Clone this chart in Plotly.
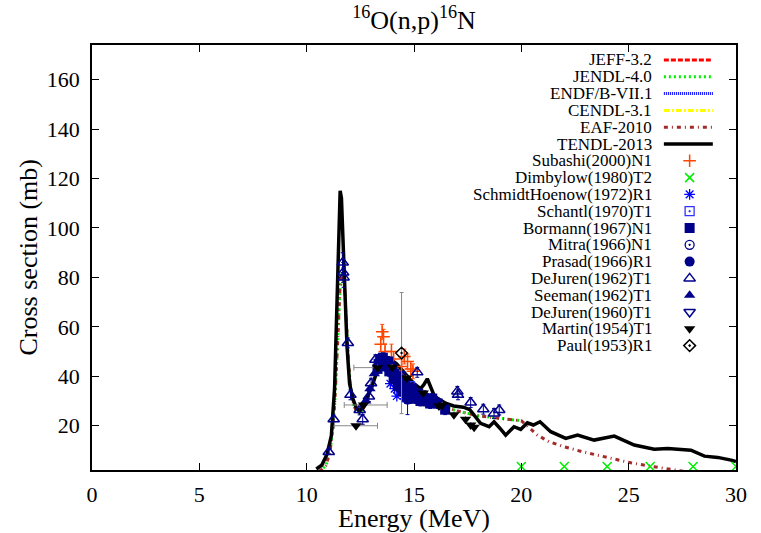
import plotly.graph_objects as go

# evaluated curves (energy in MeV, cross section in mb)
tendl_e = [10.45, 10.7, 10.95, 11.15, 11.3, 11.42, 11.5, 11.56, 11.62, 11.7, 11.78, 11.88,
           12.0, 12.15, 12.3, 12.46, 12.6, 12.75, 12.9, 13.05, 13.2, 13.4, 13.6, 13.9, 14.2,
           14.6, 15.0, 15.3, 15.45, 15.62, 15.8, 15.95, 16.2, 16.5, 16.85, 17.3, 17.6, 17.8,
           18.1, 18.5, 18.73, 19.0, 19.27, 19.66, 19.97, 20.28, 20.56, 20.87, 21.37, 22.07,
           22.62, 23.39, 24.33, 25.26, 26.19, 26.82, 27.9, 28.53, 29.15, 29.77, 30.0]
tendl_xs = [2.5, 4, 8.5, 16, 35, 75, 104, 115, 112, 95, 72, 52,
            37, 31, 27.5, 25.7, 27.5, 30, 33, 36, 40, 44, 47, 47, 45,
            41, 37, 35, 36.5, 39, 35, 32, 30.5, 29, 28, 27.5, 26.5, 24.5,
            21, 19.6, 21.6, 19, 16.2, 19.6, 18.5, 21.2, 20.3, 21.6, 17.6, 14.9,
            16.2, 14.2, 15.8, 12.2, 10.5, 10.8, 10.1, 7.7, 7.2, 6.1, 5.5]

jendl_e = [10.6, 10.9, 11.1, 11.3, 11.45, 11.55, 11.65, 11.75, 11.85, 11.95, 12.05, 12.2,
           12.35, 12.5, 12.7, 12.95, 13.2, 13.5, 13.8, 14.1, 14.5, 15.0, 15.5, 16.0, 16.5,
           17.0, 17.5, 18.0, 18.5, 19.0, 19.5, 20.0]
jendl_xs = [1.5, 4, 10, 28, 55, 75, 82, 78, 62, 45, 35, 28,
            25.5, 25, 28, 34, 40, 45, 46, 44, 40, 36, 33, 30, 27.5,
            26, 25, 24, 23.5, 23, 22.5, 22]

eaf_e = [10.6, 10.9, 11.1, 11.3, 11.45, 11.55, 11.65, 11.75, 11.85, 11.95, 12.05, 12.2,
         12.35, 12.5, 12.7, 12.95, 13.2, 13.5, 13.8, 14.1, 14.5, 15.0, 15.5, 16.0, 16.5,
         17.0, 17.5, 18.0, 18.5, 19.0, 19.5, 20.0, 20.4, 20.75, 21.3, 22.0, 22.8, 23.55,
         24.3, 25.1, 25.9, 26.66, 27.3, 28.0]
eaf_xs = [1.5, 4, 10, 28, 55, 75, 82, 78, 62, 45, 35, 28,
          25.5, 25, 28, 34, 40, 45, 46, 44, 40, 36, 33, 30, 27.5,
          26, 25, 24, 23.5, 23, 22.5, 22, 19, 16.2, 13.5, 11.5, 9.6, 8.1,
          6.5, 5.0, 3.8, 2.7, 1.7, 1.0]

# experimental data
subashi_e = [13.45, 13.52, 13.58, 13.65, 13.95, 14.05, 14.42, 14.55, 14.7, 14.85, 14.95]
subashi_xs = [53, 58, 56, 50, 50, 47, 44, 48, 46, 43, 42]
subashi_err = [3, 3, 3, 3, 3, 3, 3, 3, 3, 3, 3]

dimbylow_e = [20, 22, 24, 26, 28, 30]
dimbylow_xs = [3.5, 3.5, 3.5, 3.5, 3.5, 3.5]

schmidt_e = [13.9, 14.1, 14.3, 14.5, 14.7, 14.9, 15.1, 14.2, 14.6]
schmidt_xs = [37, 35, 39, 34, 36, 33, 32, 32, 31]

schantl_e = [14.1, 14.8]
schantl_xs = [40, 36]

bormann_e = [13.3, 13.35, 13.45, 13.5, 13.55, 13.6, 13.65, 13.7, 13.8, 13.85, 13.9, 14.0,
             14.05, 14.1, 14.2, 14.25, 14.3, 14.4, 14.45, 14.5, 14.6, 14.65, 14.75, 14.8,
             14.9, 15.0, 15.1, 15.2, 15.3, 15.4, 15.5, 15.6, 15.75, 15.85, 15.95, 16.1, 16.45]
bormann_xs = [43, 45, 47, 46, 47.5, 45, 46, 44, 46, 42, 44, 43,
              39, 41, 40, 36, 38, 37, 34, 36, 35, 32, 34, 31,
              35, 33, 31, 33, 30, 32, 30, 31, 29, 31, 29.5, 29, 26.5]
bormann_err = [2] * len(bormann_e)

mitra_e = [14.1]
mitra_xs = [41]

prasad_e = [14.1, 14.7]
prasad_xs = [39, 30.5]
prasad_err = [2, 6]

dejuren62_e = [11.03, 11.26, 11.68, 11.7, 11.72, 11.92, 12.04, 12.47, 12.61, 12.9, 13.0,
               13.2, 13.5, 14.0, 14.5, 15.15, 17.02, 17.05, 17.64, 18.23, 18.73, 18.97]
dejuren62_xs = [9.4, 22.6, 86, 82, 80, 53.5, 32.5, 26.4, 22.6, 31.8, 37.2,
                46.7, 47, 42, 40, 41.6, 33.9, 32.5, 29.4, 26.7, 25, 26.4]
dejuren62_err = [1, 1, 4, 4, 4, 2, 2, 2, 2, 2, 2, 2, 2, 2, 2, 2, 2, 2, 2, 2, 2, 2]

seeman_e = [12.75, 12.95, 13.15, 13.35, 13.55, 13.75, 13.95, 14.2, 14.45, 14.7, 14.95]
seeman_xs = [30, 35, 41, 45, 47, 46, 44, 41, 39, 37, 35]

dejuren60_e = [14.5, 15.3]
dejuren60_xs = [38, 33]

martin_e = [12.3, 12.65, 13.3, 13.98, 14.65, 15.43, 16.16, 16.32, 16.86, 17.4, 17.64, 17.8]
martin_xs = [20, 28.4, 43.5, 43.7, 39.3, 33.2, 28, 28.4, 24.4, 22.6, 20.3, 19.4]
martin_eplus = [1.0, 1.1, 0, 0, 0, 0, 0, 0, 0, 0, 0, 0]
martin_eminus = [1.0, 0.9, 1.1, 0, 0, 0, 0, 0, 0, 0, 0, 0]

paul_e = [14.42]
paul_xs = [49.4]
paul_err = [24.5]

FONT = "Liberation Serif, Times New Roman, serif"
NAVY = "#00008b"
X_RANGE = [0, 30]
Y_RANGE = [2.1, 174]

fig = go.Figure()

line_styles = {
    "JEFF-3.2": dict(color="#ff0000", width=3, dash="5px,2px"),
    "JENDL-4.0": dict(color="#00ee00", width=3, dash="2px,3px"),
    "ENDF/B-VII.1": dict(color="#0000ff", width=3, dash="1px,1px"),
    "CENDL-3.1": dict(color="#ffff00", width=3, dash="6px,2px,2px,2px"),
    "EAF-2010": dict(color="#a52a2a", width=3, dash="4px,4px,1px,4px"),
    "TENDL-2013": dict(color="#000000", width=3.5),
}

fig.add_trace(go.Scatter(x=jendl_e, y=jendl_xs, mode="lines", line=line_styles["JENDL-4.0"]))
fig.add_trace(go.Scatter(x=eaf_e, y=eaf_xs, mode="lines", line=line_styles["EAF-2010"]))
fig.add_trace(go.Scatter(x=tendl_e, y=tendl_xs, mode="lines", line=line_styles["TENDL-2013"]))

point_sets = [
    ("Subashi(2000)N1", subashi_e, subashi_xs, subashi_err, None, None,
     dict(symbol="cross-thin", size=9, color="#ff4500", line=dict(width=1.5, color="#ff4500"))),
    ("Dimbylow(1980)T2", dimbylow_e, dimbylow_xs, None, None, None,
     dict(symbol="x-thin", size=9, color="#00ee00", line=dict(width=1.5, color="#00ee00"))),
    ("SchmidtHoenow(1972)R1", schmidt_e, schmidt_xs, None, None, None,
     dict(symbol="asterisk", size=9, color="#0000ff", line=dict(width=1.3, color="#0000ff"))),
    ("Schantl(1970)T1", schantl_e, schantl_xs, None, None, None,
     dict(symbol="square-open-dot", size=9, color="#3333ff", line=dict(width=1.3))),
    ("Bormann(1967)N1", bormann_e, bormann_xs, bormann_err, None, None,
     dict(symbol="square", size=10, color=NAVY)),
    ("Mitra(1966)N1", mitra_e, mitra_xs, None, None, None,
     dict(symbol="circle-open-dot", size=9, color=NAVY, line=dict(width=1.3))),
    ("Prasad(1966)R1", prasad_e, prasad_xs, prasad_err, None, None,
     dict(symbol="circle", size=10, color=NAVY)),
    ("DeJuren(1962)T1", dejuren62_e, dejuren62_xs, dejuren62_err, None, None,
     dict(symbol="triangle-up-open", size=10, color=NAVY, line=dict(width=1.5))),
    ("Seeman(1962)T1", seeman_e, seeman_xs, None, None, None,
     dict(symbol="triangle-up", size=10, color=NAVY)),
    ("DeJuren(1960)T1", dejuren60_e, dejuren60_xs, None, None, None,
     dict(symbol="triangle-down-open", size=10, color=NAVY, line=dict(width=1.5))),
    ("Martin(1954)T1", martin_e, martin_xs, None, martin_eplus, martin_eminus,
     dict(symbol="triangle-down", size=10, color="#000000")),
    ("Paul(1953)R1", paul_e, paul_xs, paul_err, None, None,
     dict(symbol="diamond-open-dot", size=9, color="#000000", line=dict(width=1.5))),
]

for name, ex, ey, err, xplus, xminus, mk in point_sets:
    bar_color = "#888888" if name in ("Martin(1954)T1", "Paul(1953)R1") else mk["color"]
    kw = {}
    if err is not None:
        kw["error_y"] = dict(type="data", array=err, color=bar_color, thickness=1, width=2)
    if xplus is not None:
        kw["error_x"] = dict(type="data", array=xplus, arrayminus=xminus, symmetric=False,
                             color=bar_color, thickness=1, width=3)
    fig.add_trace(go.Scatter(x=ex, y=ey, mode="markers", marker=mk, name=name, **kw))


def key_x(frac):
    return X_RANGE[0] + frac * (X_RANGE[1] - X_RANGE[0])


def key_y(frac):
    return Y_RANGE[0] + frac * (Y_RANGE[1] - Y_RANGE[0])


# gnuplot-style key: text right-aligned, sample to its right
key_names = list(line_styles.keys()) + [p[0] for p in point_sets]
row0, row_step, plot_h = 60 - 45, 16.8, 425
for i, name in enumerate(key_names):
    yf = 1 - (row0 + row_step * i) / plot_h
    fig.add_annotation(x=0.873, y=yf, xref="paper", yref="paper", text=name,
                       showarrow=False, xanchor="right", yanchor="middle",
                       font=dict(family=FONT, size=17, color="black"))
    if name in line_styles:
        fig.add_trace(go.Scatter(x=[key_x(0.888), key_x(0.964)], y=[key_y(yf), key_y(yf)],
                                 mode="lines", line=line_styles[name]))
    else:
        mk = dict(point_sets[i - len(line_styles)][6])
        fig.add_trace(go.Scatter(x=[key_x(0.928)], y=[key_y(yf)], mode="markers", marker=mk))

# axis titles
fig.add_annotation(x=0.5, y=0, xref="paper", yref="paper", yshift=-48,
                   text="Energy (MeV)", showarrow=False, xanchor="center", yanchor="middle",
                   font=dict(family=FONT, size=26, color="black"))
fig.add_annotation(x=0, y=0.5, xref="paper", yref="paper", xshift=-64,
                   text="Cross section (mb)", textangle=-90, showarrow=False,
                   xanchor="center", yanchor="middle",
                   font=dict(family=FONT, size=26, color="black"))

axis_common = dict(showline=True, linecolor="black", linewidth=1.5, mirror="ticks",
                   ticks="inside", ticklen=7, tickwidth=1, tickcolor="black",
                   showgrid=False, zeroline=False, automargin=False,
                   tickfont=dict(family=FONT, size=22, color="black"))

fig.update_layout(
    width=761, height=533,
    margin=dict(l=92, r=25, t=45, b=63),
    plot_bgcolor="white", paper_bgcolor="white",
    showlegend=False,
    title=dict(text="<sup>16</sup>O(n,p)<sup>16</sup>N", x=0.5, xref="paper",
               y=1 - 20 / 533, yref="container", xanchor="center", yanchor="middle",
               font=dict(family=FONT, size=26, color="black")),
    xaxis=dict(range=X_RANGE, tickvals=[0, 5, 10, 15, 20, 25, 30],
               ticklabelstandoff=4, **axis_common),
    yaxis=dict(range=Y_RANGE, tickvals=[20, 40, 60, 80, 100, 120, 140, 160],
               ticklabelstandoff=6, **axis_common),
)

fig.write_html("out.html", config={"displayModeBar": False},
               post_script="document.body.style.margin='0';")
